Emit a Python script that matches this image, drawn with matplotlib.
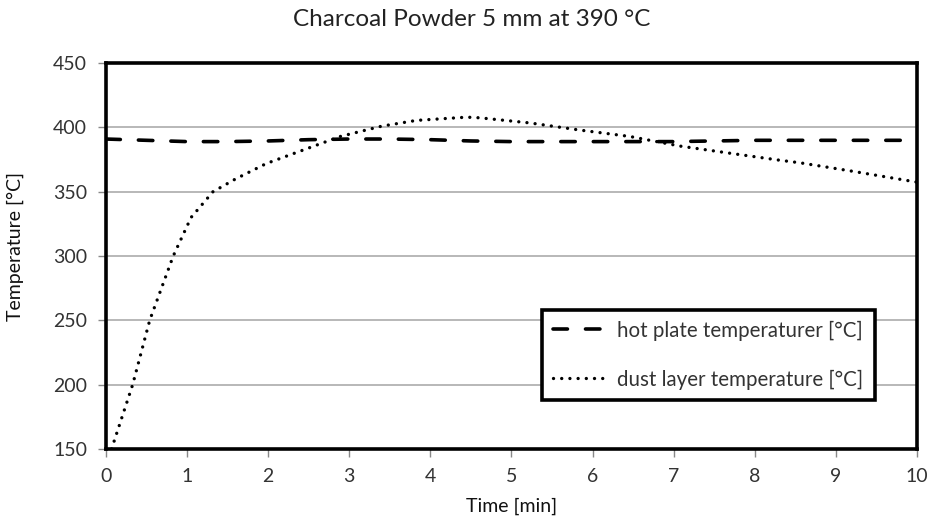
import matplotlib
matplotlib.use("Agg")
import matplotlib.pyplot as plt

title = "Charcoal Powder 5 mm at 390 °C"
xlabel = "Time [min]"
ylabel = "Temperature [°C]"

plate_time = [0.0, 0.5, 1.0, 1.5, 2.0, 2.5, 3.0, 3.5, 4.0, 4.5, 5.0, 6.0, 7.0, 8.0, 9.0, 10.0]
plate_temp = [391, 390, 389, 389, 389.5, 390.5, 391, 391, 390.5, 389.5, 389, 389, 389, 390, 390, 390]

dust_time = [0.07, 0.2, 0.33, 0.54, 0.83, 1.05, 1.32, 1.6, 1.98, 2.5, 2.89, 3.4, 3.83,
             4.45, 4.61, 5.23, 5.84, 6.46, 7.08, 7.69, 8.31, 8.56, 9.2, 9.95, 10.0]
dust_temp = [150, 175, 200, 250, 300, 330, 350, 360, 372, 384, 393, 401, 405.5,
             408, 407.5, 403.5, 398, 393, 385.5, 380, 374.5, 372.5, 366, 358, 357.5]

xticks = list(range(0, 11))
yticks = [150, 200, 250, 300, 350, 400, 450]

plt.rcParams['font.family'] = ['Lato', 'DejaVu Sans']

fig = plt.figure(figsize=(9.29, 5.22), dpi=100)
ax = fig.add_axes([0.114, 0.140, 0.873, 0.739])

ax.plot(plate_time, plate_temp, color='black', lw=2.6,
        linestyle=(0, (4.0, 5.0)), dash_capstyle='round',
        label="hot plate temperaturer [°C]")
ax.plot(dust_time, dust_temp, color='black', lw=2.4,
        linestyle=(0, (0.01, 2.45)), dash_capstyle='round',
        label="dust layer temperature [°C]")

ax.set_xlim(0, 10)
ax.set_ylim(150, 450)
ax.set_xticks(xticks)
ax.set_yticks(yticks)
ax.yaxis.grid(True, color='#b8b8b8', lw=1.4)
ax.set_axisbelow(True)
for s in ax.spines.values():
    s.set_linewidth(2.6)
    s.set_color('black')
ax.tick_params(axis='both', direction='out', length=5.5, width=1, color='#888888',
               labelsize=14, labelcolor='#333333', pad=8)

ax.set_xlabel(xlabel, fontsize=14, color='#111111')
ax.set_ylabel(ylabel, fontsize=14, color='#111111')
ax.xaxis.set_label_coords(0.5, -0.127)
ax.yaxis.set_label_coords(-0.101, 0.526)
fig.text(0.508, 0.982, title, fontsize=17.5, ha='center', va='top', color='#222222')

leg = ax.legend(loc='center', bbox_to_anchor=(0.538, 0.119, 0.41, 0.249),
                mode='expand', fontsize=14.8, frameon=True, fancybox=False, framealpha=1,
                handlelength=2.6, borderaxespad=0, borderpad=0.5, labelspacing=1.4,
                handletextpad=0.55)
leg.get_frame().set_edgecolor('black')
leg.get_frame().set_linewidth(2.6)
for t in leg.get_texts():
    t.set_color('#333333')

fig.savefig("out.png", dpi=100)
